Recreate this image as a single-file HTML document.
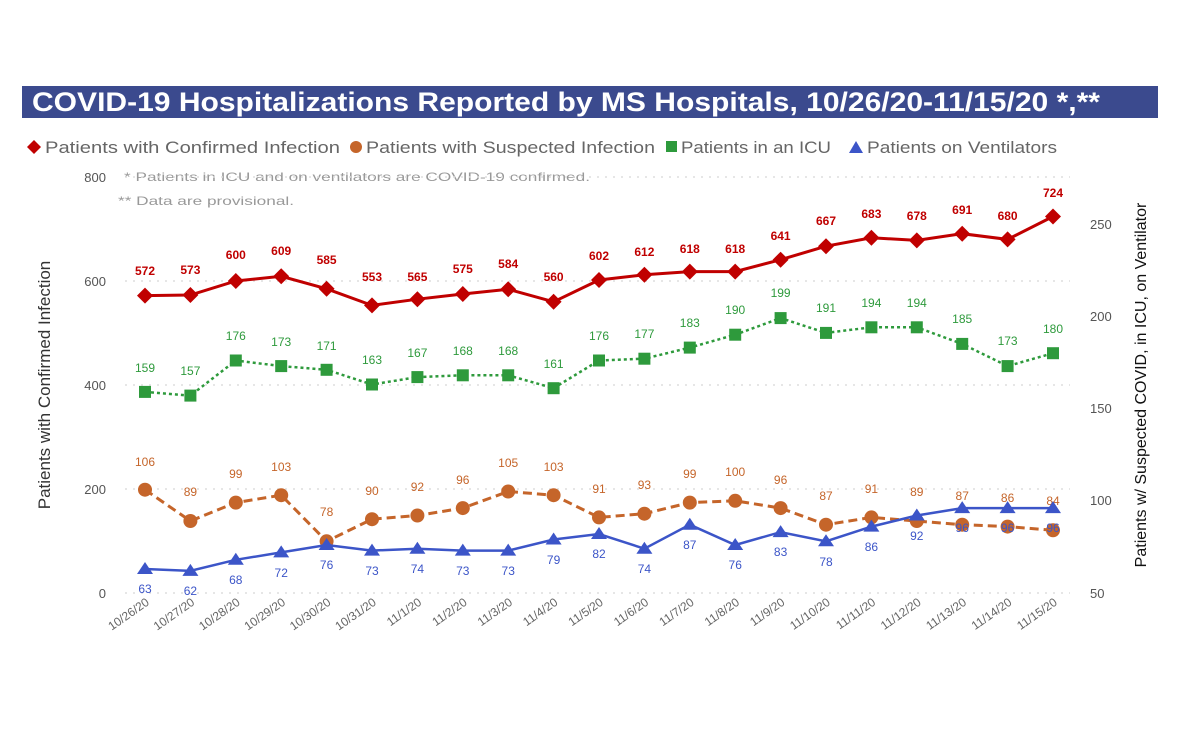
<!DOCTYPE html>
<html><head><meta charset="utf-8"><style>
html,body{margin:0;padding:0;background:#fff;}
svg{display:block;font-family:"Liberation Sans",sans-serif;}
</style></head><body>
<svg width="1200" height="750" viewBox="0 0 1200 750" xmlns="http://www.w3.org/2000/svg">
<rect x="22" y="86" width="1136" height="32" fill="#3b4a8e"/>
<text x="32" y="111" font-size="27" font-weight="bold" fill="#fff" textLength="1068" lengthAdjust="spacingAndGlyphs">COVID-19 Hospitalizations Reported by MS Hospitals, 10/26/20-11/15/20 *,**</text>
<!-- legend -->
<g font-size="17" fill="#666">
<path d="M34 140 l7 7 l-7 7 l-7 -7z" fill="#c00000"/><text x="45" y="153" textLength="295" lengthAdjust="spacingAndGlyphs">Patients with Confirmed Infection</text>
<circle cx="356" cy="147" r="6" fill="#c5652a"/><text x="366" y="153" textLength="289" lengthAdjust="spacingAndGlyphs">Patients with Suspected Infection</text>
<rect x="666" y="141" width="11" height="11" fill="#2e9a3c"/><text x="681" y="153" textLength="150" lengthAdjust="spacingAndGlyphs">Patients in an ICU</text>
<path d="M856 141 l7 12 h-14z" fill="#3c55c8"/><text x="867" y="153" textLength="190" lengthAdjust="spacingAndGlyphs">Patients on Ventilators</text>
</g>
<g font-size="12" fill="#999">
<text x="124" y="181" textLength="466" lengthAdjust="spacingAndGlyphs">* Patients in ICU and on ventilators are COVID-19 confirmed.</text>
<text x="118" y="205" textLength="176" lengthAdjust="spacingAndGlyphs">** Data are provisional.</text>
</g>
<!-- grid -->
<g stroke="#ddd" stroke-width="1.5" stroke-dasharray="2,6">
<line x1="125" y1="177" x2="1070" y2="177"/>
<line x1="125" y1="281" x2="1070" y2="281"/>
<line x1="125" y1="385" x2="1070" y2="385"/>
<line x1="125" y1="489" x2="1070" y2="489"/>
<line x1="125" y1="593" x2="1070" y2="593"/>
</g>
<g font-size="13" fill="#555" text-anchor="end">
<text x="106" y="182">800</text><text x="106" y="286">600</text><text x="106" y="390">400</text><text x="106" y="494">200</text><text x="106" y="598">0</text>
</g>
<g font-size="13" fill="#555">
<text x="1090" y="229">250</text><text x="1090" y="321">200</text><text x="1090" y="413">150</text><text x="1090" y="505">100</text><text x="1090" y="598">50</text>
</g>
<text transform="translate(50,385) rotate(-90)" font-size="17" fill="#333" text-anchor="middle">Patients with Confirmed Infection</text>
<text transform="translate(1146,385) rotate(-90)" font-size="16" fill="#111" text-anchor="middle">Patients w/ Suspected COVID, in ICU, on Ventilator</text>
<!-- confirmed -->
<polyline fill="none" stroke="#c00000" stroke-width="3" points="145,295.6 190.4,295 235.8,281 281.2,276.3 326.6,288.8 372,305.4 417.4,299.2 462.8,294 508.2,289.3 553.6,301.8 599,280 644.4,274.8 689.8,271.6 735.2,271.6 780.6,259.7 826,246.2 871.4,237.8 916.8,240.4 962.2,233.7 1007.6,239.4 1053,216.5"/>
<g fill="#c00000">
<path d="M0 -8 L8 0 L0 8 L-8 0Z" transform="translate(145,295.6)"/>
<path d="M0 -8 L8 0 L0 8 L-8 0Z" transform="translate(190.4,295)"/>
<path d="M0 -8 L8 0 L0 8 L-8 0Z" transform="translate(235.8,281)"/>
<path d="M0 -8 L8 0 L0 8 L-8 0Z" transform="translate(281.2,276.3)"/>
<path d="M0 -8 L8 0 L0 8 L-8 0Z" transform="translate(326.6,288.8)"/>
<path d="M0 -8 L8 0 L0 8 L-8 0Z" transform="translate(372,305.4)"/>
<path d="M0 -8 L8 0 L0 8 L-8 0Z" transform="translate(417.4,299.2)"/>
<path d="M0 -8 L8 0 L0 8 L-8 0Z" transform="translate(462.8,294)"/>
<path d="M0 -8 L8 0 L0 8 L-8 0Z" transform="translate(508.2,289.3)"/>
<path d="M0 -8 L8 0 L0 8 L-8 0Z" transform="translate(553.6,301.8)"/>
<path d="M0 -8 L8 0 L0 8 L-8 0Z" transform="translate(599,280)"/>
<path d="M0 -8 L8 0 L0 8 L-8 0Z" transform="translate(644.4,274.8)"/>
<path d="M0 -8 L8 0 L0 8 L-8 0Z" transform="translate(689.8,271.6)"/>
<path d="M0 -8 L8 0 L0 8 L-8 0Z" transform="translate(735.2,271.6)"/>
<path d="M0 -8 L8 0 L0 8 L-8 0Z" transform="translate(780.6,259.7)"/>
<path d="M0 -8 L8 0 L0 8 L-8 0Z" transform="translate(826,246.2)"/>
<path d="M0 -8 L8 0 L0 8 L-8 0Z" transform="translate(871.4,237.8)"/>
<path d="M0 -8 L8 0 L0 8 L-8 0Z" transform="translate(916.8,240.4)"/>
<path d="M0 -8 L8 0 L0 8 L-8 0Z" transform="translate(962.2,233.7)"/>
<path d="M0 -8 L8 0 L0 8 L-8 0Z" transform="translate(1007.6,239.4)"/>
<path d="M0 -8 L8 0 L0 8 L-8 0Z" transform="translate(1053,216.5)"/>
</g>
<g font-size="12" font-weight="bold" fill="#c00000" text-anchor="middle">
<text x="145" y="275">572</text><text x="190.4" y="274">573</text><text x="235.8" y="259">600</text><text x="281.2" y="255">609</text><text x="326.6" y="264">585</text><text x="372" y="281">553</text><text x="417.4" y="281">565</text><text x="462.8" y="273">575</text><text x="508.2" y="268">584</text><text x="553.6" y="281">560</text><text x="599" y="260">602</text><text x="644.4" y="256">612</text><text x="689.8" y="253">618</text><text x="735.2" y="253">618</text><text x="780.6" y="240">641</text><text x="826" y="225">667</text><text x="871.4" y="218">683</text><text x="916.8" y="220">678</text><text x="962.2" y="214">691</text><text x="1007.6" y="220">680</text><text x="1053" y="197">724</text>
</g>
<!-- ICU -->
<polyline fill="none" stroke="#2e9a3c" stroke-width="2.5" stroke-dasharray="3,3" points="145,391.9 190.4,395.6 235.8,360.5 281.2,366.1 326.6,369.8 372,384.5 417.4,377.1 462.8,375.3 508.2,375.3 553.6,388.2 599,360.5 644.4,358.7 689.8,347.6 735.2,334.7 780.6,318.1 826,332.9 871.4,327.3 916.8,327.3 962.2,343.9 1007.6,366.1 1053,353.2"/>
<g fill="#2e9a3c">
<rect x="139" y="385.9" width="12" height="12"/><rect x="184.4" y="389.6" width="12" height="12"/><rect x="229.8" y="354.5" width="12" height="12"/><rect x="275.2" y="360.1" width="12" height="12"/><rect x="320.6" y="363.8" width="12" height="12"/><rect x="366" y="378.5" width="12" height="12"/><rect x="411.4" y="371.1" width="12" height="12"/><rect x="456.8" y="369.3" width="12" height="12"/><rect x="502.2" y="369.3" width="12" height="12"/><rect x="547.6" y="382.2" width="12" height="12"/><rect x="593" y="354.5" width="12" height="12"/><rect x="638.4" y="352.7" width="12" height="12"/><rect x="683.8" y="341.6" width="12" height="12"/><rect x="729.2" y="328.7" width="12" height="12"/><rect x="774.6" y="312.1" width="12" height="12"/><rect x="820" y="326.9" width="12" height="12"/><rect x="865.4" y="321.3" width="12" height="12"/><rect x="910.8" y="321.3" width="12" height="12"/><rect x="956.2" y="337.9" width="12" height="12"/><rect x="1001.6" y="360.1" width="12" height="12"/><rect x="1047" y="347.2" width="12" height="12"/>
</g>
<g font-size="12" fill="#2e9a3c" text-anchor="middle">
<text x="145" y="372">159</text><text x="190.4" y="375">157</text><text x="235.8" y="340">176</text><text x="281.2" y="346">173</text><text x="326.6" y="350">171</text><text x="372" y="364">163</text><text x="417.4" y="357">167</text><text x="462.8" y="355">168</text><text x="508.2" y="355">168</text><text x="553.6" y="368">161</text><text x="599" y="340">176</text><text x="644.4" y="338">177</text><text x="689.8" y="327">183</text><text x="735.2" y="314">190</text><text x="780.6" y="297">199</text><text x="826" y="312">191</text><text x="871.4" y="307">194</text><text x="916.8" y="307">194</text><text x="962.2" y="323">185</text><text x="1007.6" y="345">173</text><text x="1053" y="333">180</text>
</g>
<!-- suspected -->
<polyline fill="none" stroke="#c5652a" stroke-width="3" stroke-dasharray="9,5" points="145,489.7 190.4,521 235.8,502.6 281.2,495.2 326.6,541.3 372,519.2 417.4,515.5 462.8,508.1 508.2,491.5 553.6,495.2 599,517.4 644.4,513.7 689.8,502.6 735.2,500.8 780.6,508.1 826,524.7 871.4,517.4 916.8,521 962.2,524.7 1007.6,526.6 1053,530.3"/>
<g fill="#c5652a">
<circle cx="145" cy="489.7" r="7"/><circle cx="190.4" cy="521" r="7"/><circle cx="235.8" cy="502.6" r="7"/><circle cx="281.2" cy="495.2" r="7"/><circle cx="326.6" cy="541.3" r="7"/><circle cx="372" cy="519.2" r="7"/><circle cx="417.4" cy="515.5" r="7"/><circle cx="462.8" cy="508.1" r="7"/><circle cx="508.2" cy="491.5" r="7"/><circle cx="553.6" cy="495.2" r="7"/><circle cx="599" cy="517.4" r="7"/><circle cx="644.4" cy="513.7" r="7"/><circle cx="689.8" cy="502.6" r="7"/><circle cx="735.2" cy="500.8" r="7"/><circle cx="780.6" cy="508.1" r="7"/><circle cx="826" cy="524.7" r="7"/><circle cx="871.4" cy="517.4" r="7"/><circle cx="916.8" cy="521" r="7"/><circle cx="962.2" cy="524.7" r="7"/><circle cx="1007.6" cy="526.6" r="7"/><circle cx="1053" cy="530.3" r="7"/>
</g>
<g font-size="12" fill="#c5652a" text-anchor="middle">
<text x="145" y="466">106</text><text x="190.4" y="496">89</text><text x="235.8" y="478">99</text><text x="281.2" y="471">103</text><text x="326.6" y="516">78</text><text x="372" y="495">90</text><text x="417.4" y="491">92</text><text x="462.8" y="484">96</text><text x="508.2" y="467">105</text><text x="553.6" y="471">103</text><text x="599" y="493">91</text><text x="644.4" y="489">93</text><text x="689.8" y="478">99</text><text x="735.2" y="476">100</text><text x="780.6" y="484">96</text><text x="826" y="500">87</text><text x="871.4" y="493">91</text><text x="916.8" y="496">89</text><text x="962.2" y="500">87</text><text x="1007.6" y="502">86</text><text x="1053" y="505">84</text>
</g>
<!-- ventilators -->
<polyline fill="none" stroke="#3c55c8" stroke-width="2.5" points="145,569 190.4,570.9 235.8,559.8 281.2,552.4 326.6,545 372,550.6 417.4,548.7 462.8,550.6 508.2,550.6 553.6,539.5 599,534 644.4,548.7 689.8,524.7 735.2,545 780.6,532.1 826,541.3 871.4,526.6 916.8,515.5 962.2,508.1 1007.6,508.1 1053,508.1"/>
<g fill="#3c55c8">
<path d="M145 562 l8 12 h-16z"/><path d="M190.4 563.9 l8 12 h-16z"/><path d="M235.8 552.8 l8 12 h-16z"/><path d="M281.2 545.4 l8 12 h-16z"/><path d="M326.6 538 l8 12 h-16z"/><path d="M372 543.6 l8 12 h-16z"/><path d="M417.4 541.7 l8 12 h-16z"/><path d="M462.8 543.6 l8 12 h-16z"/><path d="M508.2 543.6 l8 12 h-16z"/><path d="M553.6 532.5 l8 12 h-16z"/><path d="M599 527 l8 12 h-16z"/><path d="M644.4 541.7 l8 12 h-16z"/><path d="M689.8 517.7 l8 12 h-16z"/><path d="M735.2 538 l8 12 h-16z"/><path d="M780.6 525.1 l8 12 h-16z"/><path d="M826 534.3 l8 12 h-16z"/><path d="M871.4 519.6 l8 12 h-16z"/><path d="M916.8 508.5 l8 12 h-16z"/><path d="M962.2 501.1 l8 12 h-16z"/><path d="M1007.6 501.1 l8 12 h-16z"/><path d="M1053 501.1 l8 12 h-16z"/>
</g>
<g font-size="12" fill="#3c55c8" text-anchor="middle">
<text x="145" y="593">63</text><text x="190.4" y="595">62</text><text x="235.8" y="584">68</text><text x="281.2" y="577">72</text><text x="326.6" y="569">76</text><text x="372" y="575">73</text><text x="417.4" y="573">74</text><text x="462.8" y="575">73</text><text x="508.2" y="575">73</text><text x="553.6" y="564">79</text><text x="599" y="558">82</text><text x="644.4" y="573">74</text><text x="689.8" y="549">87</text><text x="735.2" y="569">76</text><text x="780.6" y="556">83</text><text x="826" y="566">78</text><text x="871.4" y="551">86</text><text x="916.8" y="540">92</text><text x="962.2" y="532">96</text><text x="1007.6" y="532">96</text><text x="1053" y="532">96</text>
</g>
<!-- dates -->
<g font-size="12" fill="#666" text-anchor="end">
<text transform="translate(150,604) rotate(-35)">10/26/20</text>
<text transform="translate(195.4,604) rotate(-35)">10/27/20</text>
<text transform="translate(240.8,604) rotate(-35)">10/28/20</text>
<text transform="translate(286.2,604) rotate(-35)">10/29/20</text>
<text transform="translate(331.6,604) rotate(-35)">10/30/20</text>
<text transform="translate(377,604) rotate(-35)">10/31/20</text>
<text transform="translate(422.4,604) rotate(-35)">11/1/20</text>
<text transform="translate(467.8,604) rotate(-35)">11/2/20</text>
<text transform="translate(513.2,604) rotate(-35)">11/3/20</text>
<text transform="translate(558.6,604) rotate(-35)">11/4/20</text>
<text transform="translate(604,604) rotate(-35)">11/5/20</text>
<text transform="translate(649.4,604) rotate(-35)">11/6/20</text>
<text transform="translate(694.8,604) rotate(-35)">11/7/20</text>
<text transform="translate(740.2,604) rotate(-35)">11/8/20</text>
<text transform="translate(785.6,604) rotate(-35)">11/9/20</text>
<text transform="translate(831,604) rotate(-35)">11/10/20</text>
<text transform="translate(876.4,604) rotate(-35)">11/11/20</text>
<text transform="translate(921.8,604) rotate(-35)">11/12/20</text>
<text transform="translate(967.2,604) rotate(-35)">11/13/20</text>
<text transform="translate(1012.6,604) rotate(-35)">11/14/20</text>
<text transform="translate(1058,604) rotate(-35)">11/15/20</text>
</g>
</svg>
</body></html>
